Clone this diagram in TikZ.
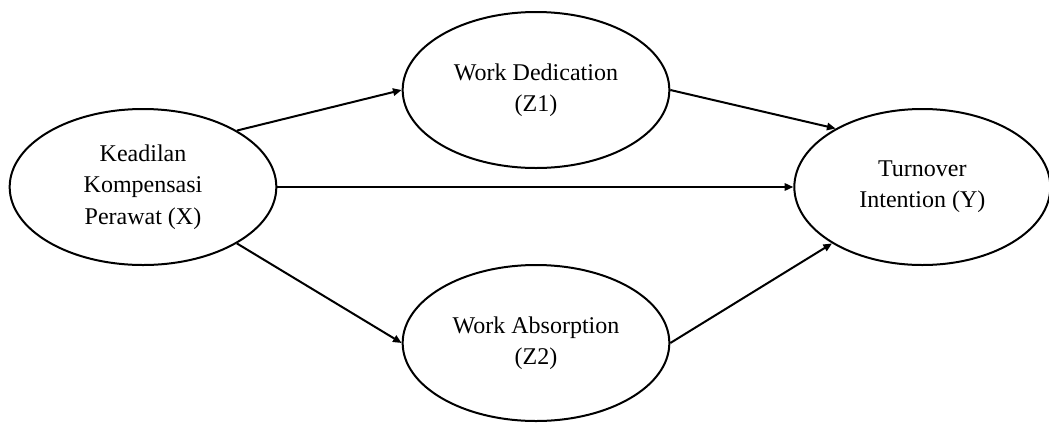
\documentclass[tikz,border=0pt]{standalone}
\usepackage{fontspec}
\setmainfont{Liberation Serif}
\usetikzlibrary{arrows.meta,positioning,shapes.geometric}

\begin{document}
\begin{tikzpicture}[
  x=0.75pt, y=-0.75pt,
  font=\fontsize{18}{23.5}\selectfont,
  >={Triangle[length=6.5pt,width=5.5pt]},
  lat/.style={draw, ellipse, line width=1.5pt, align=center, inner sep=0pt,
              minimum width=200pt, minimum height=117pt},
  path/.style={->, line width=1.5pt}
]
\useasboundingbox (0,0) rectangle (1049,422);

% ---------- constructs ----------
\node[lat] (x) at (143,187) {Keadilan\\Kompensasi\\Perawat (X)};
\node[lat] (z1) at (536,90)  {Work Dedication\\(Z1)};
\node[lat] (z2) at (536,343) {Work Absorption\\(Z2)};
\node[lat, minimum width=192pt, right=387pt of x] (y) {Turnover\\Intention (Y)};

% ---------- paths ----------
\draw[path] (x.31) -- (z1.west);
\draw[path] (x.-31) -- (z2.west);
\draw[path] (x.east) -- (y.west);
\draw[path] (z1.east) -- (y.146);
\draw[path] (z2.east) -- (y.212);

\end{tikzpicture}
\end{document}
